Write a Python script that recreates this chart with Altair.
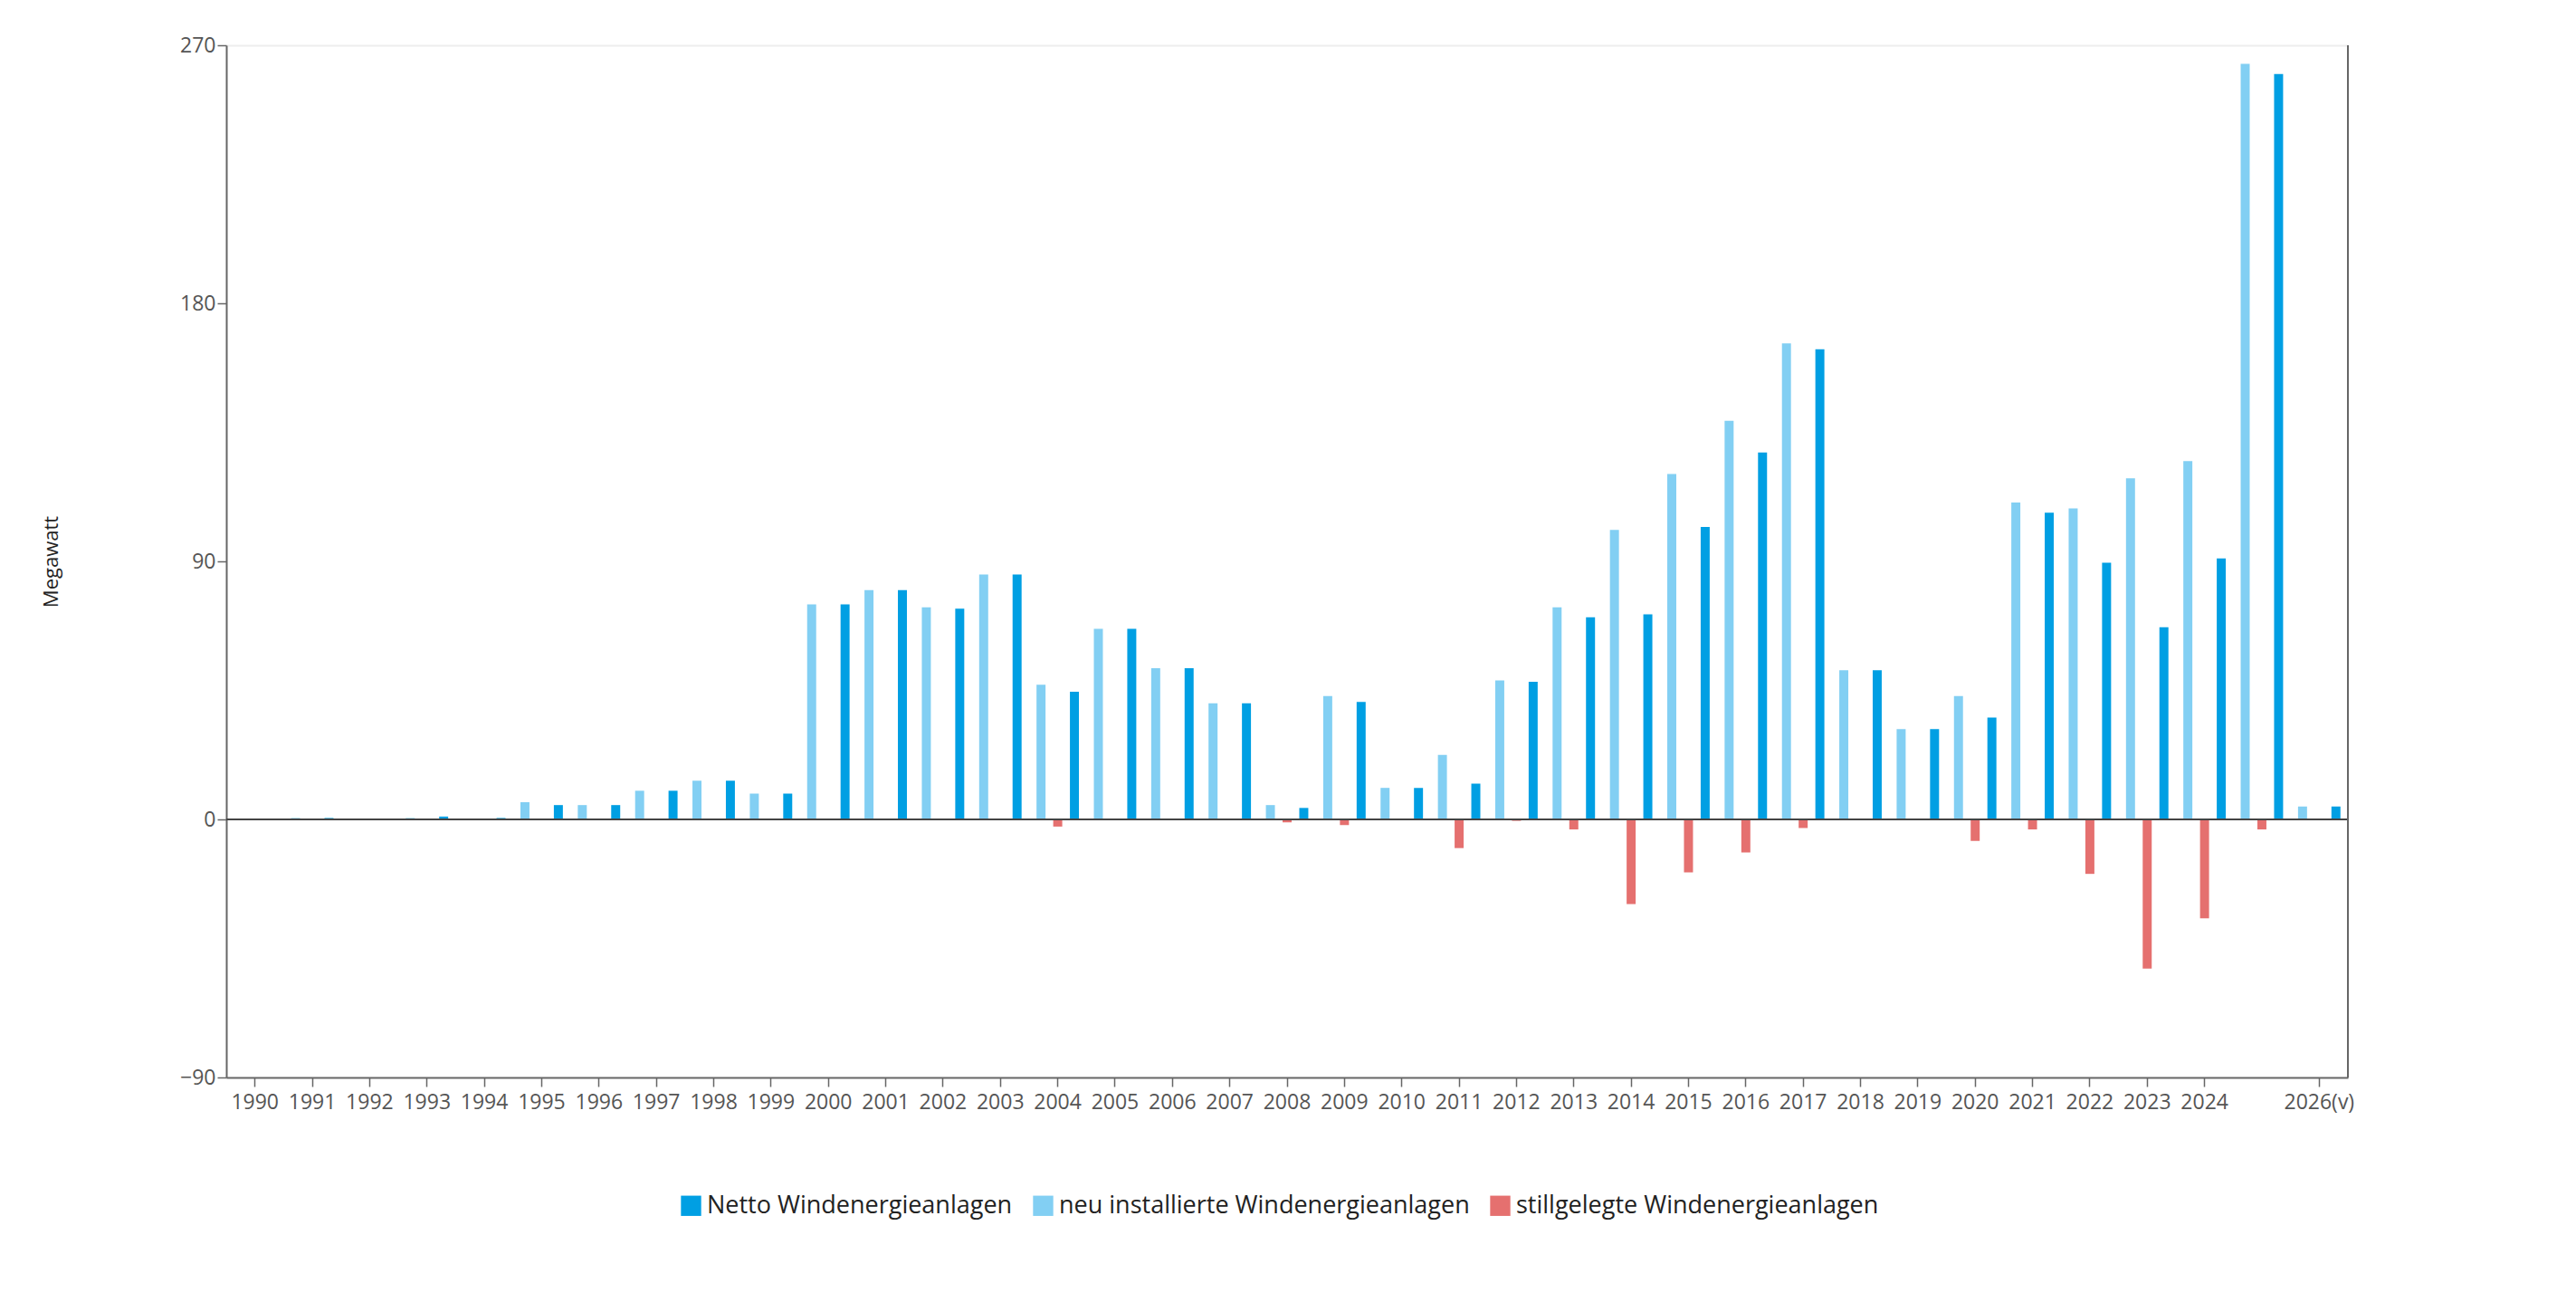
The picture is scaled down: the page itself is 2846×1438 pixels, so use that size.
import altair as alt
import pandas as pd

years = [str(y) for y in range(1990, 2026)] + ["2026(v)"]
neu = [0, 0.5, 0, 0.5, 0, 6, 5, 10, 13.5, 9, 75, 80, 74, 85.4, 47, 66.5, 52.7, 40.5,
       5, 43, 11, 22.5, 48.5, 74, 101, 120.5, 139, 166, 52, 31.5, 43, 110.5, 108.5,
       119, 125, 263.5, 4.5]
still = [0, 0, 0, 0, 0, 0, 0, 0, 0, 0, 0, 0, 0, 0, -2.5, 0, 0, 0, -1, -2, 0, -10,
         -0.5, -3.5, -29.5, -18.5, -11.5, -3, 0, 0, -7.5, -3.5, -19, -52, -34.5, -3.5, 0]
netto = [0, 0.5, 0, 1, 0.5, 5, 5, 10, 13.5, 9, 75, 80, 73.5, 85.4, 44.5, 66.5, 52.7,
         40.5, 4, 41, 11, 12.5, 48, 70.5, 71.5, 102, 128, 164, 52, 31.5, 35.5, 107,
         89.5, 67, 91, 260, 4.5]

series = ["Netto Windenergieanlagen", "neu installierte Windenergieanlagen",
          "stillgelegte Windenergieanlagen"]
offset_order = [series[1], series[2], series[0]]
colors = ["#009fe3", "#82cff3", "#e5706f"]

rows = []
for i, y in enumerate(years):
    rows.append({"year": y, "series": series[1], "value": neu[i]})
    rows.append({"year": y, "series": series[2], "value": still[i]})
    rows.append({"year": y, "series": series[0], "value": netto[i]})
df = pd.DataFrame(rows)

W, H = 2344, 1140
FONT = "Open Sans"

bars = alt.Chart(df).mark_bar().encode(
    x=alt.X("year:N", sort=years, title=None,
            scale=alt.Scale(paddingInner=0.26, paddingOuter=0.13),
            axis=alt.Axis(labelAngle=0, labelFontSize=23, labelColor="#555",
                          labelExpr="datum.value == '2025' ? '' : datum.value",
                          tickOpacity=alt.expr("datum.value == '2025' ? 0 : 1"),
                          domainColor="#666", domainWidth=2, tickColor="#666",
                          tickWidth=1.5, tickSize=10, labelPadding=6)),
    xOffset=alt.XOffset("series:N", sort=offset_order,
                        scale=alt.Scale(paddingInner=0.46, paddingOuter=0)),
    y=alt.Y("value:Q", title="Megawatt",
            scale=alt.Scale(domain=[-90, 270], nice=False),
            axis=alt.Axis(values=[-90, 0, 90, 180, 270], labelFontSize=23,
                          labelColor="#555", domainColor="#666", domainWidth=2,
                          tickColor="#666", tickSize=10, tickWidth=1.5,
                          grid=True, gridColor="#eeeeee", gridWidth=2,
                          gridOpacity=alt.expr("datum.value == 270 ? 1 : 0"),
                          titleFontSize=22, titleFontWeight="normal",
                          titleColor="#222", titlePadding=130)),
    color=alt.Color("series:N", sort=series,
                    scale=alt.Scale(domain=series, range=colors),
                    legend=alt.Legend(title=None, orient="none", direction="horizontal",
                                      legendX=500, legendY=1268,
                                      labelFontSize=27, labelColor="#222",
                                      symbolType="square", symbolSize=500,
                                      symbolStrokeWidth=0,
                                      columnPadding=20, labelLimit=700)),
)

zero = alt.Chart(pd.DataFrame({"z": [0]})).mark_rule(color="#444", strokeWidth=2).encode(
    y="z:Q")
right = alt.Chart(pd.DataFrame({"z": [0]})).mark_rule(color="#666", strokeWidth=2).encode(
    x=alt.value(W), y=alt.value(0), y2=alt.value(H))

chart = alt.layer(bars, zero, right).properties(
    width=W, height=H, autosize=alt.AutoSizeParams(type="none"),
    padding={"left": 242, "top": 42, "right": 200, "bottom": 200},
).configure_view(stroke=None).configure(font=FONT)

chart.save("out.html", embed_options={"renderer": "svg", "actions": False})
